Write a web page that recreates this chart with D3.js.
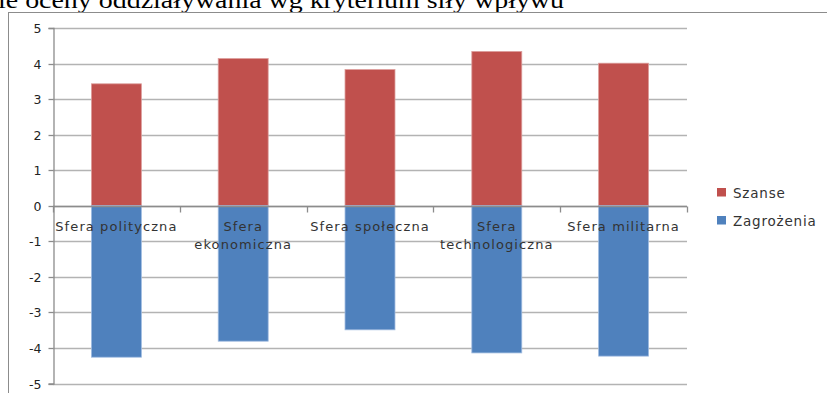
<!DOCTYPE html>
<html>
<head>
<meta charset="utf-8">
<script src="https://cdn.jsdelivr.net/npm/d3@7"></script>
<style>
  html, body { margin: 0; padding: 0; background: #fff; overflow: hidden; }
  svg { display: block; }
</style>
</head>
<body>
<svg id="chart" width="827" height="393"></svg>
<script>
// Spheres of influence and their scores
const categories = ["Sfera polityczna", "Sfera ekonomiczna", "Sfera społeczna", "Sfera technologiczna", "Sfera militarna"];
const szanse = [3.43, 4.14, 3.83, 4.34, 4.01];
const zagrozenia = [-4.26, -3.81, -3.49, -4.14, -4.23];
const yTicks = [5, 4, 3, 2, 1, 0, -1, -2, -3, -4, -5];
const seriesNames = ["Szanse", "Zagrożenia"];
const seriesColors = ["#C0504D", "#4F81BD"];
const headingText = "ie oceny oddziaływania wg kryterium siły wpływu";

const svg = d3.select("#chart");

// heading fragment above the chart frame
svg.append("text")
  .attr("x", -2).attr("y", 8)
  .attr("font-family", "Liberation Serif, serif")
  .attr("font-size", 24)
  .attr("fill", "#000")
  .attr("textLength", 566)
  .attr("lengthAdjust", "spacingAndGlyphs")
  .text(headingText);

// chart frame
svg.append("rect")
  .attr("x", 8.5).attr("y", 12.5)
  .attr("width", 900).attr("height", 500)
  .attr("fill", "none")
  .attr("stroke", "#8c8c8c")
  .attr("stroke-width", 1);

const plot = { left: 53, right: 687, top: 28, bottom: 383.5 };

const x = d3.scaleBand()
  .domain(categories)
  .range([plot.left, plot.right])
  .paddingInner(0.606)
  .paddingOuter(0.303);

const y = d3.scaleLinear()
  .domain([-5, 5])
  .range([plot.bottom, plot.top]);

// horizontal gridlines
svg.append("g")
  .selectAll("line")
  .data(yTicks)
  .join("line")
  .attr("x1", plot.left).attr("x2", plot.right)
  .attr("y1", d => Math.round(y(d)) + 0.5)
  .attr("y2", d => Math.round(y(d)) + 0.5)
  .attr("stroke", "#b3b3b3")
  .attr("stroke-width", 1.3);

// value axis
const yAxis = svg.append("g")
  .attr("transform", `translate(${plot.left + 0.5},0)`)
  .call(d3.axisLeft(y).tickValues(yTicks).tickSize(5).tickPadding(7).tickFormat(d3.format("d")));
yAxis.select(".domain").attr("stroke", "#8c8c8c").attr("stroke-width", 1.3);
yAxis.selectAll(".tick line").attr("stroke", "#8c8c8c").attr("stroke-width", 1.3);
yAxis.selectAll(".tick text")
  .attr("font-family", "DejaVu Sans, sans-serif")
  .attr("font-size", 12.5)
  .attr("fill", "#222")
  .text(d => d < 0 ? "-" + Math.abs(d) : d);
yAxis.selectAll(".tick").attr("transform", d => `translate(0,${Math.round(y(d)) + 0.5})`);

// bars: positive series above zero, negative below
const bars = svg.append("g");
[szanse, zagrozenia].forEach((vals, si) => {
  bars.append("g")
    .selectAll("rect")
    .data(categories.map((c, i) => ({ c, v: vals[i] })))
    .join("rect")
    .attr("x", d => x(d.c))
    .attr("width", x.bandwidth())
    .attr("y", d => y(Math.max(0, d.v)))
    .attr("height", d => Math.abs(y(d.v) - y(0)))
    .attr("fill", seriesColors[si])
    .attr("stroke", si === 0 ? "#dc9d9b" : "#9fbbe0")
    .attr("stroke-width", 0.8);
});

// category axis along zero with boundary ticks
const zeroY = Math.round(y(0)) + 0.5;
const step = x.step();
const boundaries = d3.range(categories.length + 1).map(i => plot.left + x.paddingOuter() * step - x.paddingInner() * step / 2 + i * step);
svg.append("line")
  .attr("x1", plot.left).attr("x2", plot.right)
  .attr("y1", zeroY).attr("y2", zeroY)
  .attr("stroke", "#8c8c8c").attr("stroke-width", 1.3);
svg.append("g")
  .selectAll("line")
  .data(boundaries)
  .join("line")
  .attr("x1", d => Math.round(d) + 0.5).attr("x2", d => Math.round(d) + 0.5)
  .attr("y1", zeroY).attr("y2", zeroY + 6)
  .attr("stroke", "#8c8c8c").attr("stroke-width", 1.3);

// category labels, wrapped when wider than a band
const labels = svg.append("g")
  .attr("font-family", "DejaVu Sans, sans-serif")
  .attr("font-size", 13)
  .attr("letter-spacing", 1.1)
  .attr("fill", "#333")
  .attr("text-anchor", "middle");
categories.forEach(c => {
  const cx = x(c) + x.bandwidth() / 2;
  const t = labels.append("text").attr("x", cx).attr("y", zeroY + 24).text(c);
  if (t.node().getComputedTextLength() > step) {
    const words = c.split(" ");
    t.text(null);
    words.forEach((w, i) => {
      t.append("tspan").attr("x", cx).attr("y", zeroY + 24 + i * 18).text(w);
    });
  }
});

// legend
const legend = svg.append("g")
  .attr("font-family", "DejaVu Sans, sans-serif")
  .attr("font-size", 13.5)
  .attr("letter-spacing", 0.8)
  .attr("fill", "#333");
seriesNames.forEach((name, i) => {
  const ly = 188 + i * 28;
  legend.append("rect")
    .attr("x", 717).attr("y", ly)
    .attr("width", 9).attr("height", 8.5)
    .attr("fill", seriesColors[i]);
  legend.append("text")
    .attr("x", 733).attr("y", ly + 4.5)
    .attr("dominant-baseline", "central")
    .text(name);
});
</script>
</body>
</html>
